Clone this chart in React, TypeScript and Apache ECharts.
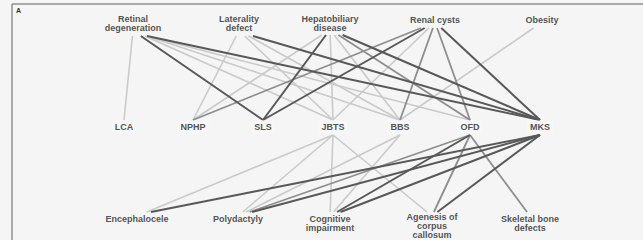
import React, { useEffect, useRef } from "react";
import * as echarts from "echarts";

// Node rows
const topNodes = ["Retinal\ndegeneration", "Laterality\ndefect", "Hepatobiliary\ndisease", "Renal cysts", "Obesity"];
const topX = [133, 239, 330, 435, 542];
const topLabelY = [23, 23, 23, 20, 20];
const topAttachY = [36, 36, 35, 28, 28];

const midNodes = ["LCA", "NPHP", "SLS", "JBTS", "BBS", "OFD", "MKS"];
const midX = [124, 193, 263, 333, 400, 470, 540];
const midLabelY = 127;
const midTopAttach = 120;
const midBottomAttach = 135;

const bottomNodes = ["Encephalocele", "Polydactyly", "Cognitive\nimpairment", "Agenesis of\ncorpus\ncallosum", "Skeletal bone\ndefects"];
const bottomX = [137, 238, 330, 432, 530];
const bottomLabelY = [219, 219, 223.5, 225.5, 223.5];
const bottomAttachY = 212;

// edges: [top index, mid index, shade] ; shade 1 light, 2 mid, 3 dark
const topEdges: [number, number, number][] = [
  [0, 0, 1], [0, 2, 3], [0, 3, 1], [0, 4, 1], [0, 5, 1], [0, 6, 3],
  [1, 1, 1], [1, 3, 1], [1, 4, 1], [1, 6, 3],
  [2, 1, 1], [2, 2, 3], [2, 3, 1], [2, 4, 1], [2, 5, 2], [2, 6, 3],
  [3, 1, 2], [3, 2, 3], [3, 3, 1], [3, 4, 2], [3, 5, 2], [3, 6, 3],
  [4, 4, 1],
];
// [mid index, bottom index, shade]
const bottomEdges: [number, number, number][] = [
  [3, 0, 1], [6, 0, 3],
  [3, 1, 1], [4, 1, 1], [5, 1, 2], [6, 1, 3],
  [3, 2, 1], [4, 2, 1], [5, 2, 3], [6, 2, 3],
  [3, 3, 1], [5, 3, 2], [6, 3, 3],
  [5, 4, 2],
];

const shadeColor: Record<number, string> = { 1: "#cacaca", 2: "#8e8e8e", 3: "#585858" };
const shadeWidth: Record<number, number> = { 1: 1.6, 2: 1.8, 3: 2 };

export default function App() {
  const ref = useRef<HTMLDivElement>(null);
  useEffect(() => {
    if (!ref.current) return;
    const chart = echarts.init(ref.current, undefined, { renderer: "svg" });
    const lineData: any[] = [];
    // spread attachment points a little along each label, by target direction
    const spread = (from: number, to: number, k: number) => Math.max(-14, Math.min(14, (to - from) * k));
    [1, 2, 3].forEach((s) => {
      topEdges.filter((e) => e[2] === s).forEach(([t, m, sh]) => {
        lineData.push({
          coords: [[topX[t] + spread(topX[t], midX[m], 0.06), topAttachY[t]], [midX[m], midTopAttach]],
          lineStyle: { color: shadeColor[sh], width: shadeWidth[sh] },
        });
      });
      bottomEdges.filter((e) => e[2] === s).forEach(([m, b, sh]) => {
        lineData.push({
          coords: [[midX[m], midBottomAttach], [bottomX[b] + spread(bottomX[b], midX[m], 0.05), bottomAttachY]],
          lineStyle: { color: shadeColor[sh], width: shadeWidth[sh] },
        });
      });
    });
    const labelStyle = {
      show: true,
      position: "inside",
      fontFamily: "Liberation Sans, Arial, sans-serif",
      fontWeight: "bold",
      fontSize: 9,
      lineHeight: 9,
      color: "#262626",
      align: "center",
      verticalAlign: "middle",
      formatter: (p: any) => p.name,
    };
    const labelData: any[] = [];
    topNodes.forEach((n, i) => labelData.push({ name: n, value: [topX[i], topLabelY[i]] }));
    midNodes.forEach((n, i) =>
      labelData.push({
        name: n,
        value: [midX[i], midLabelY],
        label: { backgroundColor: "#f8f8f8", padding: [2, 3] },
      })
    );
    bottomNodes.forEach((n, i) => labelData.push({ name: n, value: [bottomX[i], bottomLabelY[i]] }));

    chart.setOption({
      animation: false,
      backgroundColor: "#f5f5f5",
      grid: { left: 0, right: 0, top: 0, bottom: 0 },
      xAxis: { type: "value", min: 0, max: 643, show: false },
      yAxis: { type: "value", min: 0, max: 240, inverse: true, show: false },
      graphic: [
        { type: "line", shape: { x1: 12, y1: 4, x2: 643, y2: 4 }, style: { stroke: "#8f8f8f", lineWidth: 1.5 } },
        { type: "line", shape: { x1: 12, y1: 4, x2: 12, y2: 240 }, style: { stroke: "#8f8f8f", lineWidth: 1.5 } },
        { type: "text", left: 16, top: 7, style: { text: "A", fontSize: 7, fontWeight: "bold", fill: "#333", fontFamily: "Liberation Sans, Arial, sans-serif" } },
      ],
      series: [
        {
          type: "lines",
          coordinateSystem: "cartesian2d",
          polyline: false,
          silent: true,
          data: lineData,
          lineStyle: { opacity: 1 },
          z: 1,
        },
        {
          type: "scatter",
          symbolSize: 1,
          itemStyle: { color: "rgba(0,0,0,0)" },
          data: labelData,
          label: labelStyle,
          silent: true,
          z: 5,
        },
      ],
    });
    return () => chart.dispose();
  }, []);
  return <div ref={ref} style={{ width: 643, height: 240, position: "absolute", left: 0, top: 0 }} />;
}
